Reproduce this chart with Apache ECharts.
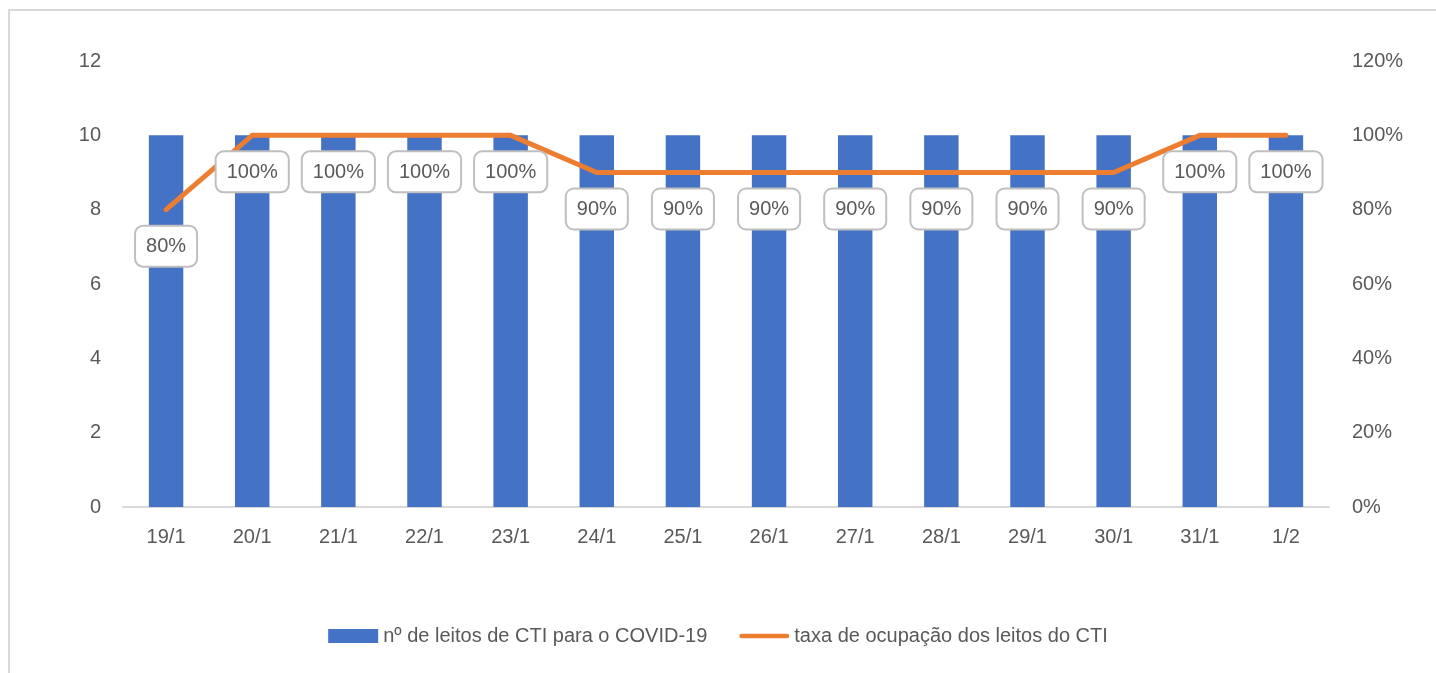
<!DOCTYPE html>
<html>
<head>
<meta charset="utf-8">
<script src="https://cdn.jsdelivr.net/npm/echarts@6/dist/echarts.min.js"></script>
<style>
	html, body { margin: 0; padding: 0; background: #fff; }
	#myChart { width: 1436px; height: 673px; }
</style>
</head>
<body>
<div id="myChart"></div>
<script>
// dados
var categorias = ["19/1", "20/1", "21/1", "22/1", "23/1", "24/1", "25/1", "26/1", "27/1", "28/1", "29/1", "30/1", "31/1", "1/2"];
var leitos = [10, 10, 10, 10, 10, 10, 10, 10, 10, 10, 10, 10, 10, 10];
var taxa = [80, 100, 100, 100, 100, 90, 90, 90, 90, 90, 90, 90, 100, 100];
var nomeLeitos = "nº de leitos de CTI para o COVID-19";
var nomeTaxa = "taxa de ocupação dos leitos do CTI";

var fonte = "Liberation Sans";
var cinza = "#595959";

var myChart = echarts.init(document.getElementById("myChart"));
var option = {
	animation: false,
	textStyle: { fontFamily: fonte },
	graphic: [
		{
			type: "rect",
			shape: { x: 9, y: 10, width: 1440, height: 680 },
			style: { fill: "none", stroke: "#d9d9d9", lineWidth: 2 },
			silent: true,
		},
	],
	legend: {
		left: "center",
		top: 621,
		itemWidth: 50,
		itemHeight: 14,
		itemGap: 32,
		textStyle: { color: cinza, fontSize: 20, fontFamily: fonte },
		data: [
			{ name: nomeLeitos, icon: "rect" },
			{
				name: nomeTaxa,
				// linha laranja arredondada
				icon: "path://M2.5,0 L51.5,0 A2.5,2.5 0 0 1 51.5,5 L2.5,5 A2.5,2.5 0 0 1 2.5,0 Z",
			},
		],
	},
	grid: {
		left: 123,
		right: 107,
		top: 61,
		bottom: 166,
	},
	xAxis: {
		type: "category",
		data: categorias,
		axisLine: { lineStyle: { color: "#d9d9d9", width: 2 } },
		axisTick: { show: false },
		axisLabel: { color: cinza, fontSize: 20, margin: 20 },
	},
	yAxis: [
		{
			type: "value",
			min: 0,
			max: 12,
			interval: 2,
			axisLine: { show: false },
			axisTick: { show: false },
			splitLine: { show: false },
			axisLabel: { color: cinza, fontSize: 20, margin: 22 },
		},
		{
			type: "value",
			min: 0,
			max: 120,
			interval: 20,
			axisLine: { show: false },
			axisTick: { show: false },
			splitLine: { show: false },
			axisLabel: { color: cinza, fontSize: 20, margin: 23, formatter: "{value}%" },
		},
	],
	series: [
		{
			name: nomeLeitos,
			type: "bar",
			data: leitos,
			barWidth: "40%",
			itemStyle: { color: "#4472c4" },
		},
		{
			name: nomeTaxa,
			type: "line",
			yAxisIndex: 1,
			data: taxa,
			symbol: "circle",
			symbolSize: 0.01,
			showSymbol: true,
			lineStyle: { color: "#ed7d31", width: 5, cap: "round", join: "round" },
			itemStyle: { color: "#ed7d31" },
			z: 3,
			label: {
				show: true,
				position: "bottom",
				distance: 17,
				formatter: "{c}%",
				color: cinza,
				fontSize: 20,
				backgroundColor: "#fff",
				borderColor: "#bfbfbf",
				borderWidth: 2,
				borderRadius: 7,
				padding: [10, 10, 9, 10],
			},
		},
	],
};
myChart.setOption(option);
</script>
</body>
</html>
